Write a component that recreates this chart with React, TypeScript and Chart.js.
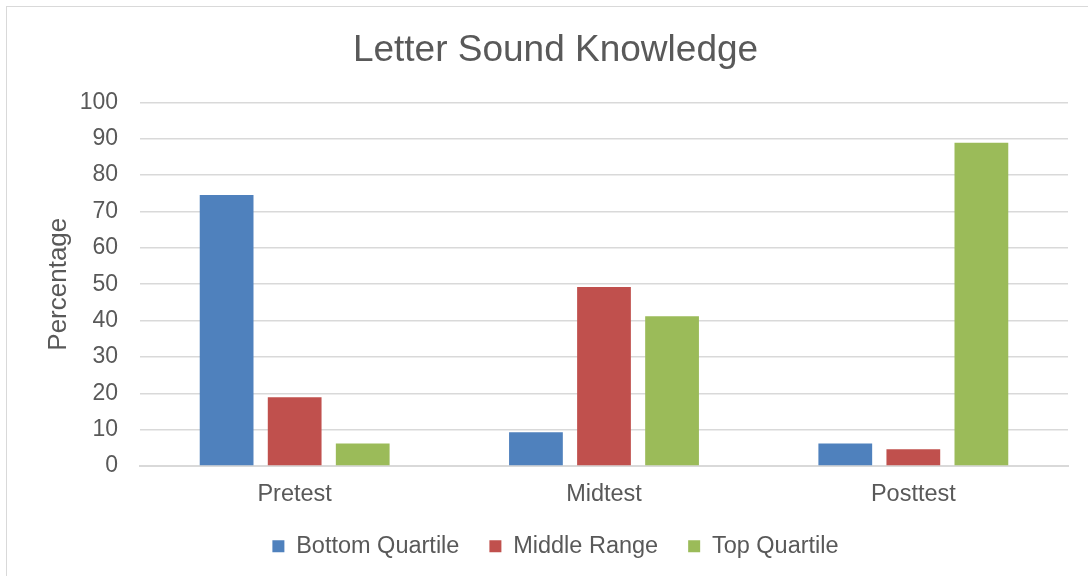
import React, { useEffect, useRef } from "react";
import { Chart, registerables } from "chart.js";

Chart.register(...registerables);

const categories = ["Pretest", "Midtest", "Posttest"];
const bottomQuartile = [74.5, 9.3, 6.2];
const middleRange = [18.9, 49.2, 4.6];
const topQuartile = [6.2, 41.2, 88.9];
const seriesNames = ["Bottom Quartile", "Middle Range", "Top Quartile"];
const seriesColors = ["#4f81bd", "#c0504d", "#9bbb59"];

const FONT = "'Liberation Sans', Arial, sans-serif";
const TEXT = "#595959";

export default function App() {
  const ref = useRef<HTMLCanvasElement | null>(null);

  useEffect(() => {
    if (!ref.current) return;
    const values = [bottomQuartile, middleRange, topQuartile];
    const chart = new Chart(ref.current, {
      type: "bar",
      data: {
        labels: categories,
        datasets: values.map((v, i) => ({
          label: seriesNames[i],
          data: v,
          backgroundColor: seriesColors[i],
          borderWidth: 0,
          categoryPercentage: 0.66,
          barPercentage: 0.79,
        })),
      },
      options: {
        animation: false,
        responsive: false,
        maintainAspectRatio: false,
        layout: { padding: { left: 43, right: 20, top: 0, bottom: 8 } },
        plugins: {
          title: {
            display: true,
            text: "Letter Sound Knowledge",
            color: TEXT,
            font: { family: FONT, size: 37, weight: "normal" },
            padding: { top: 29, bottom: 29 },
          },
          legend: {
            position: "bottom",
            labels: {
              color: TEXT,
              font: { family: FONT, size: 23.5 },
              boxWidth: 12,
              boxHeight: 12,
              padding: 30,
            },
          },
          tooltip: { enabled: false },
        },
        scales: {
          x: {
            grid: { display: false, drawTicks: false },
            border: { display: true, color: "#d9d9d9", width: 2 },
            ticks: {
              color: TEXT,
              font: { family: FONT, size: 23.5 },
              padding: 14,
            },
            afterFit: (scale: any) => {
              scale.height = 38.5;
            },
          },
          y: {
            min: 0,
            max: 100,
            grid: { color: "#d9d9d9", lineWidth: 1.5, drawTicks: false },
            border: { display: false },
            ticks: {
              stepSize: 10,
              color: TEXT,
              font: { family: FONT, size: 23 },
              padding: 22,
            },
            title: {
              display: true,
              text: "Percentage",
              color: TEXT,
              font: { family: FONT, size: 26 },
              padding: { top: 0, bottom: 0 },
            },
            afterFit: (scale: any) => {
              scale.width = 97;
            },
          },
        },
      },
    });
    return () => chart.destroy();
  }, []);

  return (
    <div style={{ position: "absolute", left: 0, top: 0, width: 1088, height: 576, background: "#fff", overflow: "hidden" }}>
      <div
        style={{
          position: "absolute",
          left: 6,
          top: 6,
          width: 1100,
          height: 600,
          borderTop: "1.5px solid #d9d9d9",
          borderLeft: "1.5px solid #d9d9d9",
        }}
      />
      <canvas ref={ref} width={1088} height={576} style={{ position: "absolute", left: 0, top: 0 }} />
    </div>
  );
}
